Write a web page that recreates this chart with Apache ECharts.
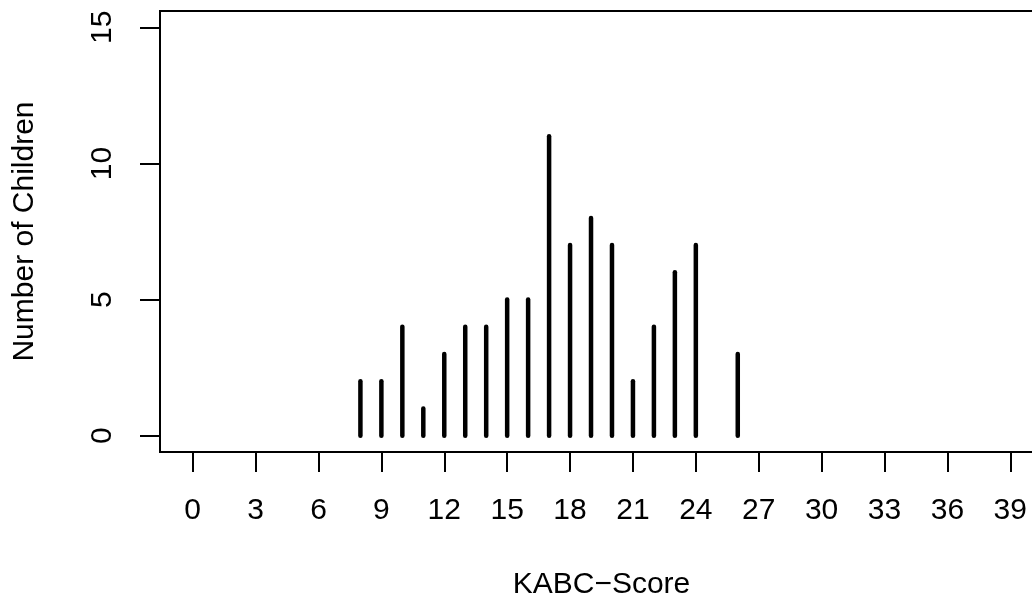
<!DOCTYPE html>
<html>
<head>
<meta charset="utf-8">
<script src="https://cdn.jsdelivr.net/npm/echarts@6/dist/echarts.min.js"></script>
<style>
  html, body { margin: 0; padding: 0; background: #fff; }
  #chart { width: 1032px; height: 608px; }
</style>
</head>
<body>
<div id="chart"></div>
<script>
// KABC scores and how many children got each one
var scores = [8, 9, 10, 11, 12, 13, 14, 15, 16, 17, 18, 19, 20, 21, 22, 23, 24, 26];
var counts = [2, 2, 4, 1, 3, 4, 4, 5, 5, 11, 7, 8, 7, 2, 4, 6, 7, 3];
var xTicks = [0, 3, 6, 9, 12, 15, 18, 21, 24, 27, 30, 33, 36, 39];
var yTicks = [0, 5, 10, 15];

var points = [];
for (var i = 0; i < scores.length; i++) {
	points.push([scores[i], counts[i]]);
}

var font = '"Liberation Sans", Arial, sans-serif';

var myChart = echarts.init(document.getElementById('chart'));
myChart.setOption({
	animation: false,
	backgroundColor: '#fff',
	grid: {
		left: 160, top: 11, width: 883, height: 441,
		outerBoundsMode: 'none', containLabel: false,
		show: true, borderColor: '#000', borderWidth: 2, backgroundColor: 'transparent'
	},
	xAxis: {
		type: 'value', min: -1.56, max: 40.56,
		name: 'KABC\u2212Score', nameLocation: 'middle', nameGap: 118,
		nameTextStyle: { color: '#000', fontFamily: font, fontSize: 30 },
		axisLine: { show: false, onZero: false },
		splitLine: { show: false },
		axisTick: { show: true, inside: false, length: 20, customValues: xTicks, lineStyle: { color: '#000', width: 2 } },
		axisLabel: { customValues: xTicks, margin: 44, color: '#000', fontFamily: font, fontSize: 30 }
	},
	yAxis: {
		type: 'value', min: -0.6, max: 15.6,
		name: 'Number of Children', nameLocation: 'middle', nameGap: 120, nameRotate: 90,
		nameTextStyle: { color: '#000', fontFamily: font, fontSize: 30 },
		axisLine: { show: false, onZero: false },
		splitLine: { show: false },
		axisTick: { show: true, inside: false, length: 20, customValues: yTicks, lineStyle: { color: '#000', width: 2 } },
		axisLabel: { customValues: yTicks, rotate: 90, margin: 42, color: '#000', fontFamily: font, fontSize: 30 }
	},
	series: [{
		type: 'custom',
		data: points,
		renderItem: function(params, api) {
			var top = api.coord([api.value(0), api.value(1)]);
			var base = api.coord([api.value(0), 0]);
			return {
				type: 'line',
				shape: { x1: base[0], y1: base[1], x2: top[0], y2: top[1] },
				style: { stroke: '#000', lineWidth: 4.5, lineCap: 'round' }
			};
		}
	}]
});
</script>
</body>
</html>
